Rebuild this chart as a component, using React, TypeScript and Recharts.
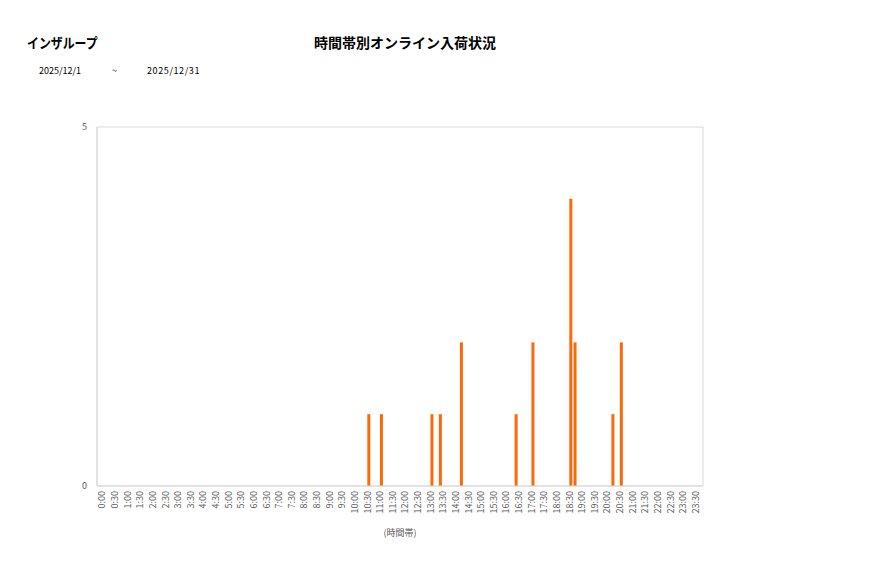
import { BarChart, Bar, XAxis, YAxis, ReferenceArea } from 'recharts';

const hours = Array.from({ length: 24 }, (_, h) => h);
const minutes = ['00', '10', '20', '30', '40', '50'];
// 10分刻みの時間帯
const slots = hours.flatMap((h) => minutes.map((m) => `${h}:${m}`));

// 入荷のあった時間帯と件数
const arrivalSlots = ['10:40', '11:10', '13:10', '13:30', '14:20', '16:30', '17:10', '18:40', '18:50', '20:20', '20:40'];
const arrivalCounts = [1, 1, 1, 1, 2, 1, 2, 4, 2, 1, 2];

const yTicks = [0, 5];

const chartData = slots.map((slot) => {
  const i = arrivalSlots.indexOf(slot);
  return { slot, count: i >= 0 ? arrivalCounts[i] : 0 };
});

const font = '"Noto Sans CJK JP", "Noto Sans", sans-serif';
const border = '#d9d9d9';
const textGray = '#595959';

export default function App() {
  return (
    <div style={{ position: 'absolute', left: 0, top: 0, width: 877, height: 578, background: '#fff', fontFamily: font }}>
      <div
        style={{
          position: 'absolute',
          left: 27,
          top: 32,
          fontSize: 14,
          fontWeight: 'bold',
          color: '#000',
          transform: 'scaleX(0.85)',
          transformOrigin: 'left',
        }}
      >
        インザループ
      </div>
      <div style={{ position: 'absolute', left: 0, width: 810, top: 32, fontSize: 14, fontWeight: 'bold', color: '#000', textAlign: 'center' }}>
        時間帯別オンライン入荷状況
      </div>
      <div style={{ position: 'absolute', left: 39, top: 64, fontSize: 9, color: '#000' }}>2025/12/1</div>
      <div style={{ position: 'absolute', left: 112, top: 64, fontSize: 9, color: '#000' }}>~</div>
      <div style={{ position: 'absolute', left: 147, top: 64, fontSize: 9, color: '#000', letterSpacing: 0.6 }}>2025/12/31</div>

      <div style={{ position: 'absolute', left: 0, top: 0 }}>
        <BarChart width={877} height={578} data={chartData} margin={{ top: 127, right: 174, bottom: 0, left: 0 }} barCategoryGap={1}>
          <XAxis
            dataKey="slot"
            interval={2}
            height={92}
            stroke={border}
            tickLine={false}
            tickSize={0}
            tickMargin={5}
            angle={-90}
            textAnchor="end"
            tick={{ fontSize: 9, fill: textGray, fontFamily: font }}
            label={{ value: '(時間帯)', position: 'insideBottom', offset: 42, fontSize: 9, fill: textGray, fontFamily: font }}
          />
          <YAxis
            width={97}
            domain={[0, 5]}
            ticks={yTicks}
            stroke={border}
            tickLine={false}
            tickSize={0}
            tickMargin={10}
            tick={{ fontSize: 9, fill: textGray, fontFamily: font }}
          />
          <ReferenceArea y1={0} y2={5} fill="none" stroke={border} strokeWidth={1} ifOverflow="visible" />
          <Bar dataKey="count" fill="#fa6a0a" barSize={3} isAnimationActive={false} />
        </BarChart>
      </div>
    </div>
  );
}
